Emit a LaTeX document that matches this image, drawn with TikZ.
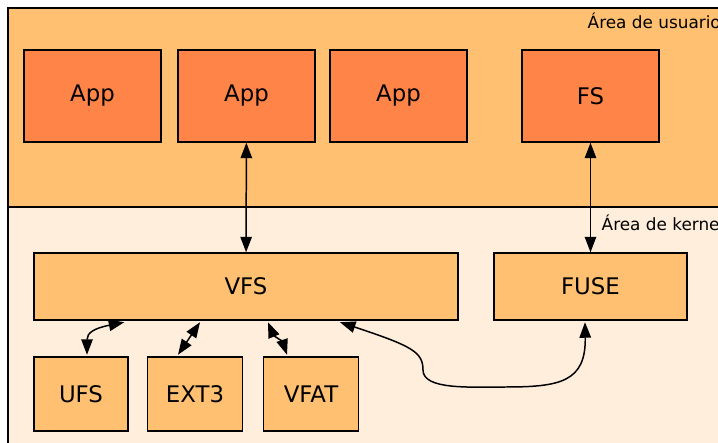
\documentclass[tikz,border=0pt]{standalone}
\usepackage{fontspec}
\setmainfont{DejaVu Sans}
\usetikzlibrary{arrows.meta}
\definecolor{userarea}{HTML}{FFC071}
\definecolor{kernelarea}{HTML}{FFEEDC}
\definecolor{appfill}{HTML}{FF8447}
\tikzset{
	area/.style={draw=black,line width=1.1pt},
	appbox/.style={draw=black,fill=appfill,line width=0.85pt,minimum width=2.74cm,minimum height=1.84cm,font=\fontsize{13}{15}\selectfont},
	kbox/.style={draw=black,fill=userarea,line width=0.85pt,minimum height=1.34cm,font=\fontsize{13}{15}\selectfont},
	fsbox/.style={kbox,minimum width=1.9cm,minimum height=1.48cm},
	arealabel/.style={anchor=base west,inner sep=0pt,font=\fontsize{9.6}{11}\selectfont}
}
\begin{document}
\begin{tikzpicture}[x=0.02cm,y=-0.02cm,>={Triangle[length=3.1mm,width=2.3mm]},line width=0.85pt]
	 \useasboundingbox (0,0) rectangle (718,443);
	 \clip (0,0) rectangle (718,443);
	 %Areas
	 \fill[white] (0,0) rectangle (718,443);
	 \draw[area,fill=userarea] (8,8) rectangle (740,207);
	 \draw[area,fill=kernelarea] (8,207) rectangle (740,470);
	 \node[arealabel] (usr) at (587,28) {Área de usuario};
	 \node[arealabel] (krn) at (601,230) {Área de kernel};
	 
	 %User space
	 \node[appbox] (app1) at (92.5,96) {App};
	 \node[appbox] (app2) at (246.5,96) {App};
	 \node[appbox] (app3) at (398.5,96) {App};
	 \node[appbox] (fs) at (590.5,96) {FS};
	 
	 %Kernel space
	 \node[kbox,minimum width=8.48cm] (vfs) at (246,286.5) {VFS};
	 \node[kbox,minimum width=3.86cm] (fuse) at (590.5,286.5) {FUSE};
	 \node[fsbox,minimum width=1.88cm] (ufs) at (81,394) {UFS};
	 \node[fsbox] (ext) at (195,394) {EXT3};
	 \node[fsbox] (vfat) at (311,394) {VFAT};
	 
	 \draw[<->] (app2) -- (vfs);
	 \draw[<->] (fs) -- (fuse);
	 \draw[<->] ([xshift=1.82cm,yshift=-0.03cm]vfs.south west) .. controls +(-30,6) and +(0,-22) .. ([xshift=0.12cm,yshift=0.03cm]ufs.north);
	 \draw[<->] ([xshift=-0.92cm,yshift=-0.03cm]vfs.south) -- ([xshift=-0.34cm,yshift=0.03cm]ext.north);
	 \draw[<->] ([xshift=0.44cm,yshift=-0.03cm]vfs.south) .. controls +(5,12) and +(-4,-12) .. ([xshift=-0.48cm,yshift=0.03cm]vfat.north);
	 \draw[<->] ([xshift=1.88cm,yshift=-0.03cm]vfs.south) .. controls (412,346) and (423,352) .. (423,370) .. controls (423,390) and (470,387) .. (505,387) .. controls (560,387) and (586,382) .. ([xshift=-0.11cm,yshift=-0.03cm]fuse.south);
\end{tikzpicture}
\end{document}
